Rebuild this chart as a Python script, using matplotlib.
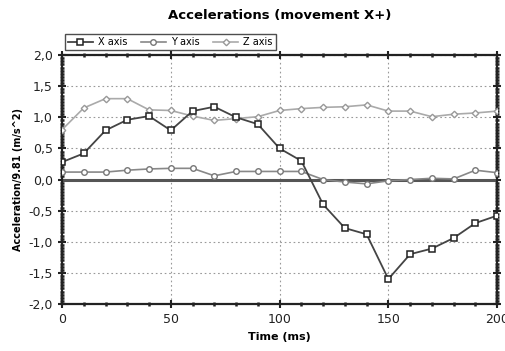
import numpy as np
import matplotlib
matplotlib.use('Agg')
import matplotlib.pyplot as plt
from matplotlib.ticker import MultipleLocator, FuncFormatter

# Время (мс)
t = np.arange(0, 201, 10)

x_axis = [0.28, 0.42, 0.79, 0.96, 1.02, 0.79, 1.10, 1.17, 1.00, 0.89, 0.50,
          0.30, -0.40, -0.78, -0.88, -1.60, -1.20, -1.11, -0.94, -0.70, -0.58]
y_axis = [0.12, 0.12, 0.12, 0.15, 0.17, 0.18, 0.18, 0.06, 0.13, 0.13, 0.13,
          0.13, 0.00, -0.04, -0.07, -0.02, 0.00, 0.02, 0.01, 0.15, 0.11]
z_axis = [0.80, 1.15, 1.30, 1.30, 1.12, 1.11, 1.02, 0.95, 0.98, 1.01, 1.11,
          1.14, 1.16, 1.17, 1.20, 1.10, 1.10, 1.01, 1.05, 1.07, 1.10]

fig = plt.figure(figsize=(5.06, 3.51), dpi=100)
ax = fig.add_axes([0.1225, 0.134, 0.86, 0.709])

ax.axhline(0, color='#555555', lw=2.2, zorder=2)
ax.plot(t, x_axis, '-s', color='#444444', lw=1.3, ms=4.5, mfc='white',
        mec='#222222', mew=1.1, label='X axis', zorder=4)
ax.plot(t, y_axis, '-o', color='#888888', lw=1.2, ms=4, mfc='white',
        mec='#777777', mew=1.0, label='Y axis', zorder=3)
ax.plot(t, z_axis, '-D', color='#aaaaaa', lw=1.2, ms=3.3, mfc='white',
        mec='#999999', mew=1.0, label='Z axis', zorder=3)

ax.set_xlim(0, 200)
ax.set_ylim(-2.0, 2.0)
ax.xaxis.set_major_locator(MultipleLocator(50))
ax.xaxis.set_minor_locator(MultipleLocator(10))
ax.yaxis.set_major_locator(MultipleLocator(0.5))
ax.yaxis.set_minor_locator(MultipleLocator(0.05))
ax.yaxis.set_major_formatter(FuncFormatter(lambda v, p: f'{v:.1f}'.replace('.', ',')))
ax.grid(True, which='major', linestyle=(0, (1.5, 2.5)), color='#999999', lw=0.8)
ax.tick_params(which='both', direction='inout', top=True, right=True,
               labelsize=9, colors='#222222')
ax.tick_params(which='major', length=6, width=1.5)
ax.tick_params(which='minor', length=3, width=1.8)
for s in ax.spines.values():
    s.set_linewidth(1.6)
    s.set_color('#222222')

ax.set_title('Accelerations (movement X+)', fontsize=9.5, fontweight='bold', pad=26)
ax.set_xlabel('Time (ms)', fontsize=8, fontweight='bold')
ax.set_ylabel('Acceleration/9.81 (m/s^2)', fontsize=7, fontweight='bold')

ax.legend(loc='lower left', bbox_to_anchor=(-0.005, 1.0), ncol=3, fontsize=7,
          frameon=True, fancybox=False, edgecolor='#222222', borderpad=0.3,
          handlelength=2.6, columnspacing=1.4, handletextpad=0.5)

plt.savefig('out.png', dpi=100)
